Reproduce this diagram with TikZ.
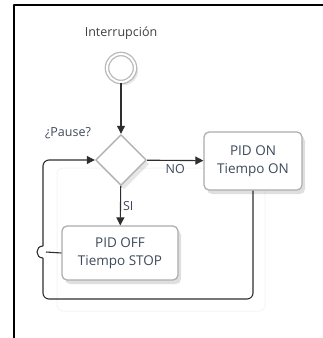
\documentclass[tikz,border=0pt]{standalone}
\usepackage{fontspec}
\setmainfont{Open Sans}
\usepackage{tikz}
\usetikzlibrary{arrows.meta,shapes.geometric,shadows}
\usetikzlibrary{positioning}
\definecolor{txtc}{HTML}{3D4A5C}
\definecolor{linec}{HTML}{2E2E2E}
\tikzset{tarea/.style={draw=gray!65,line width=1.2pt,rounded corners=5pt,fill=white,align=center,
    font=\fontsize{13.5}{18}\selectfont,drop shadow={shadow xshift=3pt,shadow yshift=-4pt,opacity=0.25}},
  linea/.style={draw=linec,line width=1.1pt},
  flujo/.style={linea,-{Triangle[length=8pt,width=8pt]}},
  etiq/.style={font=\fontsize{12.5}{15}\selectfont,inner sep=1pt}}

\begin{document}
\begin{tikzpicture}[x=1pt,y=-1pt,line join=round,text=txtc]
\useasboundingbox (0,0) rectangle (323,338);
% --- marco (borde de celda)
\draw[line width=2pt] (14,338) -- (14,5) -- (323,5);
% --- carril tenue
\draw[gray!8,line width=1pt,rounded corners=6pt] (57,168) rectangle (265,311);
% --- evento de inicio y compuerta
\node[etiq,text=black!75] (lblint) at (121,33) {Interrupción};
\node[circle,draw=gray!55,line width=1.3pt,double=white,double distance=2pt,minimum size=28pt,inner sep=0,
  fill=white,drop shadow={shadow xshift=3pt,shadow yshift=-3pt,opacity=0.2}] (inicio) at (121,68) {};
\node[diamond,draw=gray!60,line width=1.4pt,fill=white,minimum width=51pt,minimum height=51pt,inner sep=0,
  drop shadow={shadow xshift=3pt,shadow yshift=-4pt,opacity=0.2}] (pausa) at (121,160) {};
\node[etiq] (lblpausa) at (68,133) {¿Pause?};
% --- tareas
\node[tarea,minimum width=98pt,minimum height=58pt] (pidon) at (253,161) {PID ON\\Tiempo ON};
\node[tarea,minimum width=116pt,minimum height=54pt] (pidoff) at (120,253) {PID OFF\\Tiempo STOP};
% --- conectores
\draw[flujo] (inicio) -- (pausa);
\draw[flujo] (pausa) -- (pidon) node[etiq,midway,below=2pt] {NO};
\draw[flujo] (pausa) -- (pidoff) node[etiq,midway,right=1pt] {SI};
% --- retorno con salto
\coordinate (abajo) at (43,299);
\coordinate (saltoB) at (43,258);
\coordinate (saltoT) at (43,246);
\coordinate (talon) at (46,252);
\draw[linea,rounded corners=6pt] (pidon.south) |- (abajo) -- (saltoB);
\draw[linea] (saltoB) .. controls (35,258) and (35,246) .. (saltoT);
\draw[flujo,rounded corners=6pt] (saltoT) |- (pausa.west);
\draw[linea] (pidoff.west) -- (talon);
\end{tikzpicture}
\end{document}
